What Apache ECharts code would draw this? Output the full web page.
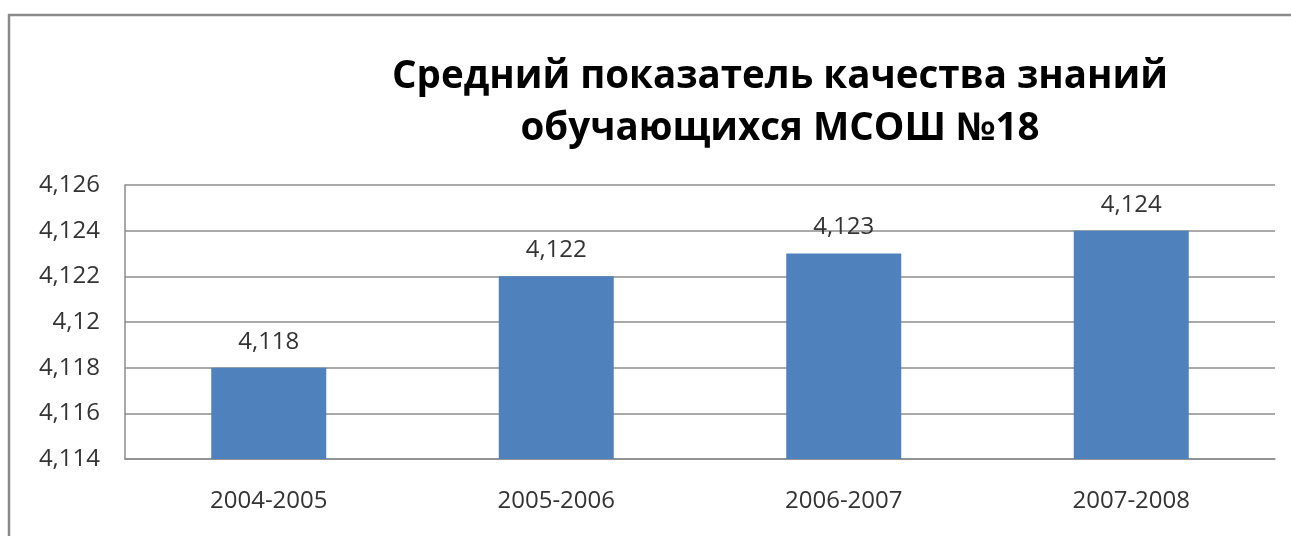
<!DOCTYPE html>
<html>
<head>
<meta charset="utf-8">
<script src="https://cdn.jsdelivr.net/npm/echarts@6/dist/echarts.min.js"></script>
<style>
html,body{margin:0;padding:0;background:#fff;}
#chart{width:1291px;height:536px;}
</style>
</head>
<body>
<div id="chart"></div>
<script>
const titleLines = ['Средний показатель качества знаний', 'обучающихся МСОШ №18'];
const categories = ['2004-2005', '2005-2006', '2006-2007', '2007-2008'];
const values = [4.118, 4.122, 4.123, 4.124];
const yMin = 4.114, yMax = 4.126, yStep = 0.002;

function fmt(v) {
  return parseFloat(Number(v).toFixed(3)).toString().replace('.', ',');
}

const chart = echarts.init(document.getElementById('chart'));
chart.setOption({
  animation: false,
  backgroundColor: '#fff',
  textStyle: { fontFamily: 'Open Sans' },
  graphic: [
    { type: 'polyline', shape: { points: [[9, 700], [9, 15], [1400, 15]] },
      style: { fill: 'none', stroke: '#8a8a8a', lineWidth: 2.5 }, silent: true },
    { type: 'text', x: 780, y: 77, style: { text: titleLines[0], fontFamily: 'Open Sans', fontWeight: 'bold', fontSize: 38.5, fill: '#000', textAlign: 'center', textVerticalAlign: 'middle' } },
    { type: 'text', x: 780, y: 129, style: { text: titleLines[1], fontFamily: 'Open Sans', fontWeight: 'bold', fontSize: 38.5, fill: '#000', textAlign: 'center', textVerticalAlign: 'middle' } }
  ],
  grid: { left: 125, right: 16, top: 185, bottom: 77, containLabel: false },
  xAxis: {
    type: 'category',
    data: categories,
    axisLine: { show: true, lineStyle: { color: '#8c8c8c', width: 1.5 } },
    axisTick: { show: false },
    axisLabel: { color: '#333', fontSize: 24, margin: 30, fontFamily: 'Open Sans' }
  },
  yAxis: {
    type: 'value',
    min: yMin, max: yMax, interval: yStep,
    axisLine: { show: true, lineStyle: { color: '#8c8c8c', width: 1.5 } },
    axisTick: { show: false },
    splitLine: { show: true, lineStyle: { color: '#8c8c8c', width: 1.5 } },
    axisLabel: { color: '#333', fontSize: 24, margin: 25, fontFamily: 'Open Sans', formatter: fmt }
  },
  series: [{
    type: 'bar',
    data: values,
    barWidth: '40%',
    itemStyle: { color: '#4F81BD' },
    label: { show: true, position: 'top', distance: 14, color: '#333', fontSize: 24, fontFamily: 'Open Sans', formatter: p => fmt(p.value) }
  }]
});
</script>
</body>
</html>
